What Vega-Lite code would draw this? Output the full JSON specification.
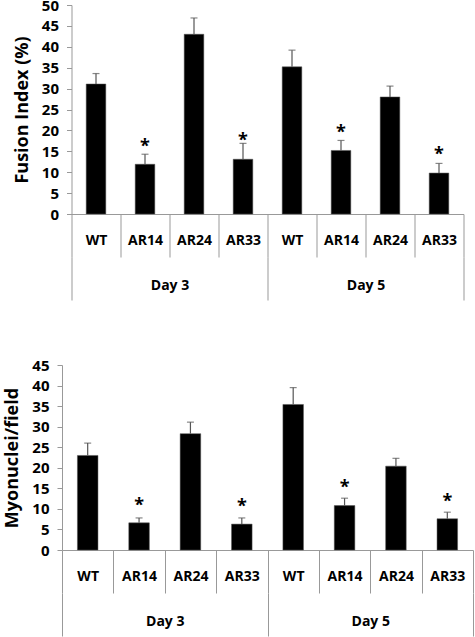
{
  "$schema": "https://vega.github.io/schema/vega-lite/v6.json",
  "padding": {"left": 3, "top": -2, "right": 2, "bottom": 0},
  "background": "white",
  "bounds": "flush",
  "center": true,
  "spacing": 151,
  "config": {
    "view": {"stroke": null},
    "font": "Open Sans",
    "axis": {"grid": false, "domainColor": "#999999", "tickColor": "#999999", "labelColor": "black", "labelFontWeight": "bold", "titleColor": "black", "titleFontWeight": "bold", "labelOverlap": false}
  },
  "datasets": {
    "fusion": [
      {"day": "Day 3", "key": "3-WT", "value": 31.1, "err": 33.6, "star": "", "star_y": null},
      {"day": "Day 3", "key": "3-AR14", "value": 11.9, "err": 14.3, "star": "*", "star_y": 16.9},
      {"day": "Day 3", "key": "3-AR24", "value": 43.0, "err": 46.9, "star": "", "star_y": null},
      {"day": "Day 3", "key": "3-AR33", "value": 13.1, "err": 16.9, "star": "*", "star_y": 18.3},
      {"day": "Day 5", "key": "5-WT", "value": 35.2, "err": 39.2, "star": "", "star_y": null},
      {"day": "Day 5", "key": "5-AR14", "value": 15.2, "err": 17.6, "star": "*", "star_y": 20.3},
      {"day": "Day 5", "key": "5-AR24", "value": 28.0, "err": 30.6, "star": "", "star_y": null},
      {"day": "Day 5", "key": "5-AR33", "value": 9.8, "err": 12.1, "star": "*", "star_y": 14.9}
    ],
    "nuclei": [
      {"day": "Day 3", "key": "3-WT", "value": 23.0, "err": 26.0, "star": "", "star_y": null},
      {"day": "Day 3", "key": "3-AR14", "value": 6.6, "err": 7.8, "star": "*", "star_y": 11.6},
      {"day": "Day 3", "key": "3-AR24", "value": 28.3, "err": 31.1, "star": "", "star_y": null},
      {"day": "Day 3", "key": "3-AR33", "value": 6.3, "err": 7.8, "star": "*", "star_y": 11.4},
      {"day": "Day 5", "key": "5-WT", "value": 35.4, "err": 39.5, "star": "", "star_y": null},
      {"day": "Day 5", "key": "5-AR14", "value": 10.8, "err": 12.6, "star": "*", "star_y": 15.9},
      {"day": "Day 5", "key": "5-AR24", "value": 20.4, "err": 22.3, "star": "", "star_y": null},
      {"day": "Day 5", "key": "5-AR33", "value": 7.6, "err": 9.2, "star": "*", "star_y": 12.6}
    ]
  },
  "vconcat": [
    {
      "width": 392,
      "height": 209,
      "data": {"name": "fusion"},
      "layer": [
        {
          "encoding": {
            "x": {"field": "key", "type": "nominal", "sort": null,
              "scale": {"paddingInner": 0, "paddingOuter": 0},
              "axis": {"title": null, "labelExpr": "split(datum.value, '-')[1]", "labelAngle": 0, "labelFontSize": 14, "tickBand": "extent", "tickSize": 43, "labelPadding": -24}},
            "y": {"type": "quantitative",
              "scale": {"domain": [0, 50]},
              "axis": {"title": "Fusion Index (%)", "titleFontSize": 18, "values": [0, 5, 10, 15, 20, 25, 30, 35, 40, 45, 50], "labelFontSize": 15, "tickSize": 5, "labelPadding": 8, "titlePadding": 10}}
          },
          "layer": [
            {
              "mark": {"type": "bar", "color": "black", "stroke": "#555555", "strokeWidth": 0.5, "width": {"band": 0.4}},
              "encoding": {"y": {"field": "value", "type": "quantitative"}}
            },
            {
              "mark": {"type": "rule", "color": "#555555", "strokeWidth": 1.2},
              "encoding": {"y": {"field": "value", "type": "quantitative"}, "y2": {"field": "err"}}
            },
            {
              "mark": {"type": "tick", "color": "#555555", "size": 7, "thickness": 1.2},
              "encoding": {"y": {"field": "err", "type": "quantitative"}}
            },
            {
              "mark": {"type": "text", "fontSize": 18, "fontWeight": "bold", "color": "black", "baseline": "middle", "dy": 3.5},
              "encoding": {"y": {"field": "star_y", "type": "quantitative"}, "text": {"field": "star"}}
            }
          ]
        },
        {
          "mark": {"type": "text", "text": ""},
          "encoding": {
            "x": {"field": "day", "type": "nominal", "sort": null,
              "scale": {"paddingInner": 0, "paddingOuter": 0},
              "axis": {"title": null, "orient": "bottom", "offset": 43, "domain": false, "labelAngle": 0, "labelFontSize": 14, "tickBand": "extent", "tickSize": 43, "labelPadding": -22}}
          }
        }
      ],
      "resolve": {"scale": {"x": "independent"}, "axis": {"x": "independent"}}
    },
    {
      "width": 411,
      "height": 185,
      "data": {"name": "nuclei"},
      "layer": [
        {
          "encoding": {
            "x": {"field": "key", "type": "nominal", "sort": null,
              "scale": {"paddingInner": 0, "paddingOuter": 0},
              "axis": {"title": null, "labelExpr": "split(datum.value, '-')[1]", "labelAngle": 0, "labelFontSize": 14, "tickBand": "extent", "tickSize": 43, "labelPadding": -24}},
            "y": {"type": "quantitative",
              "scale": {"domain": [0, 45]},
              "axis": {"title": "Myonuclei/field", "titleFontSize": 18, "values": [0, 5, 10, 15, 20, 25, 30, 35, 40, 45], "labelFontSize": 15, "tickSize": 5, "labelPadding": 8, "titlePadding": 10}}
          },
          "layer": [
            {
              "mark": {"type": "bar", "color": "black", "stroke": "#555555", "strokeWidth": 0.5, "width": {"band": 0.4}},
              "encoding": {"y": {"field": "value", "type": "quantitative"}}
            },
            {
              "mark": {"type": "rule", "color": "#555555", "strokeWidth": 1.2},
              "encoding": {"y": {"field": "value", "type": "quantitative"}, "y2": {"field": "err"}}
            },
            {
              "mark": {"type": "tick", "color": "#555555", "size": 7, "thickness": 1.2},
              "encoding": {"y": {"field": "err", "type": "quantitative"}}
            },
            {
              "mark": {"type": "text", "fontSize": 18, "fontWeight": "bold", "color": "black", "baseline": "middle", "dy": 3.5},
              "encoding": {"y": {"field": "star_y", "type": "quantitative"}, "text": {"field": "star"}}
            }
          ]
        },
        {
          "mark": {"type": "text", "text": ""},
          "encoding": {
            "x": {"field": "day", "type": "nominal", "sort": null,
              "scale": {"paddingInner": 0, "paddingOuter": 0},
              "axis": {"title": null, "orient": "bottom", "offset": 43, "domain": false, "labelAngle": 0, "labelFontSize": 14, "tickBand": "extent", "tickSize": 43, "labelPadding": -22}}
          }
        }
      ],
      "resolve": {"scale": {"x": "independent"}, "axis": {"x": "independent"}}
    }
  ]
}
